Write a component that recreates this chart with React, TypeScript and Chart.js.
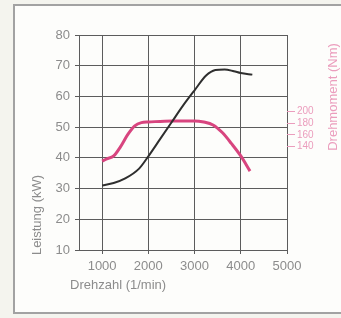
import React, { useEffect, useRef } from "react";
import { Chart, registerables } from "chart.js";

Chart.register(...registerables);

const rpmTicks = [1000, 2000, 3000, 4000, 5000];
const powerTicks = [10, 20, 30, 40, 50, 60, 70, 80];
const torqueTicks = [140, 160, 180, 200];

const powerRpm = [1000, 1250, 1500, 1800, 2000, 2250, 2500, 2750, 3000, 3250, 3450, 3650, 3850, 4000, 4250];
const powerKw = [31, 31.8, 33.3, 36.5, 40.5, 46, 51.5, 57, 62, 66.8, 68.6, 68.8, 68.2, 67.6, 67.1];

const torqueRpm = [1000, 1100, 1250, 1400, 1550, 1700, 1850, 2000, 2500, 3000, 3200, 3400, 3600, 3800, 4000, 4200];
const torqueNm = [115, 119, 124, 140, 160, 175, 181, 182, 184, 184, 182, 177, 164, 145, 124, 98];

const xTitle = "Drehzahl (1/min)";
const yTitle = "Leistung (kW)";
const y2Title = "Drehmoment (Nm)";

const FONT = '"Liberation Sans", Arial, Helvetica, sans-serif';
const GREY_TEXT = "#8c8c8c";
const GRID = "#5c5c5c";
const PINK = "#d8457f";
const PINK_LIGHT = "#eb9dbd";

const titlePlugin = {
  id: "axisTitles",
  afterDraw(chart: any) {
    const ctx = chart.ctx as CanvasRenderingContext2D;
    const { left, right, top, bottom } = chart.chartArea;
    ctx.save();
    ctx.font = `13px ${FONT}`;
    ctx.fillStyle = GREY_TEXT;
    ctx.textBaseline = "middle";
    ctx.textAlign = "left";
    ctx.fillText(xTitle, left - 9, bottom + 35);

    ctx.save();
    ctx.translate(left - 42, bottom - 35);
    ctx.rotate(-Math.PI / 2);
    ctx.textAlign = "center";
    ctx.fillText(yTitle, 0, 0);
    ctx.restore();

    ctx.save();
    ctx.fillStyle = PINK_LIGHT;
    ctx.translate(right + 46, top + 62);
    ctx.rotate(-Math.PI / 2);
    ctx.textAlign = "center";
    ctx.fillText(y2Title, 0, 0);
    ctx.restore();

    ctx.restore();
  },
};

export default function App() {
  const ref = useRef<HTMLCanvasElement | null>(null);

  useEffect(() => {
    if (!ref.current) return;
    const chart = new Chart(ref.current, {
      type: "line",
      data: {
        datasets: [
          {
            label: "Leistung",
            data: powerRpm.map((x, i) => ({ x, y: powerKw[i] })),
            borderColor: "#2e2e2e",
            borderWidth: 2,
            pointRadius: 0,
            cubicInterpolationMode: "monotone",
            yAxisID: "y",
          },
          {
            label: "Drehmoment",
            data: torqueRpm.map((x, i) => ({ x, y: torqueNm[i] })),
            borderColor: PINK,
            borderWidth: 3,
            pointRadius: 0,
            cubicInterpolationMode: "monotone",
            yAxisID: "y2",
          },
        ],
      },
      options: {
        animation: false,
        responsive: false,
        events: [],
        layout: { padding: { top: 35, left: 0, right: 0, bottom: 0 } },
        plugins: { legend: { display: false }, tooltip: { enabled: false } },
        scales: {
          x: {
            type: "linear",
            min: 500,
            max: 5000,
            afterBuildTicks: (s: any) => {
              s.ticks = rpmTicks.map((v) => ({ value: v }));
            },
            afterFit: (s: any) => {
              s.height = 68;
            },
            grid: { color: GRID, lineWidth: 1, tickLength: 4 },
            border: { color: GRID, width: 1 },
            ticks: {
              font: { family: FONT, size: 13 },
              color: GREY_TEXT,
              padding: 5,
              maxRotation: 0,
              autoSkip: false,
              callback: (v: any) => String(v),
            },
          },
          y: {
            type: "linear",
            position: "left",
            min: 10,
            max: 80,
            afterBuildTicks: (s: any) => {
              s.ticks = powerTicks.map((v) => ({ value: v }));
            },
            afterFit: (s: any) => {
              s.width = 79;
            },
            grid: { color: GRID, lineWidth: 1, tickLength: 4 },
            border: { color: GRID, width: 1 },
            ticks: {
              font: { family: FONT, size: 13 },
              color: GREY_TEXT,
              padding: 5,
            },
          },
          y2: {
            type: "linear",
            position: "right",
            min: -37,
            max: 331,
            afterBuildTicks: (s: any) => {
              s.ticks = torqueTicks.map((v) => ({ value: v }));
            },
            afterFit: (s: any) => {
              s.width = 54;
            },
            grid: { drawOnChartArea: false, color: PINK_LIGHT, tickLength: 8, lineWidth: 1 },
            border: { display: false },
            ticks: {
              font: { family: FONT, size: 10 },
              color: PINK_LIGHT,
              padding: 2,
            },
          },
        },
      },
      plugins: [titlePlugin],
    } as any);
    return () => chart.destroy();
  }, []);

  return (
    <div
      style={{
        position: "fixed",
        left: 0,
        top: 0,
        width: 341,
        height: 318,
        background: "#f4f4ee",
        overflow: "hidden",
      }}
    >
      <div
        style={{
          position: "absolute",
          left: 13,
          top: 4,
          width: 340,
          height: 306,
          border: "2px solid #a2a2a2",
          background: "#fdfdfb",
        }}
      />
      <canvas
        ref={ref}
        width={341}
        height={318}
        style={{ position: "absolute", left: 0, top: 0, width: 341, height: 318 }}
      />
    </div>
  );
}
